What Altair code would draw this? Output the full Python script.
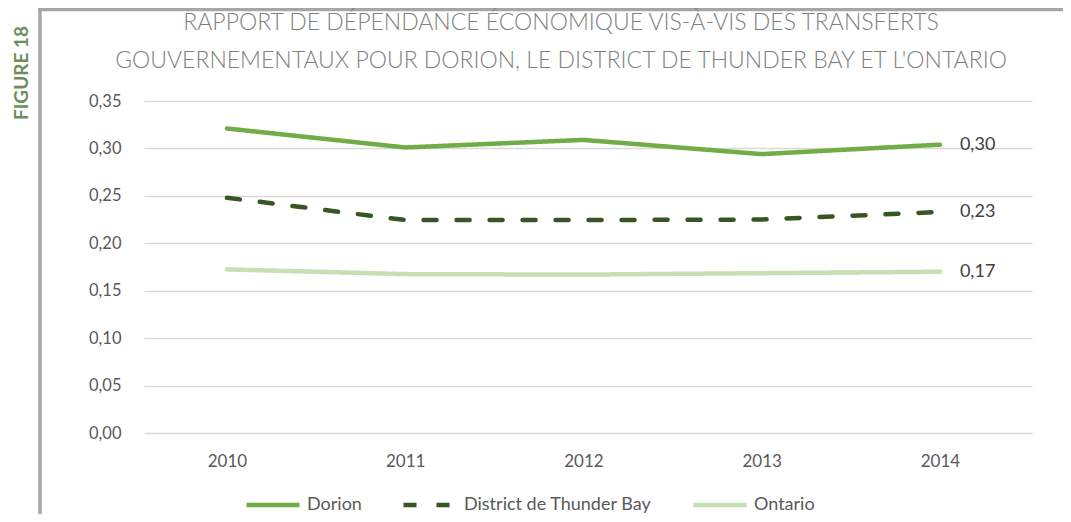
import altair as alt
import pandas as pd

years = ["2010", "2011", "2012", "2013", "2014"]
series_names = ["Dorion", "District de Thunder Bay", "Ontario"]
dorion = [0.321, 0.301, 0.309, 0.294, 0.304]
district = [0.248, 0.2245, 0.2245, 0.225, 0.233]
ontario = [0.1725, 0.1675, 0.167, 0.1685, 0.170]
colors = ["#70AD47", "#375623", "#C5E0B4"]
dashes = [[1, 0], [13, 20], [1, 0]]
title_lines = [
    "RAPPORT DE DÉPENDANCE ÉCONOMIQUE VIS-À-VIS DES TRANSFERTS",
    "GOUVERNEMENTAUX POUR DORION, LE DISTRICT DE THUNDER BAY ET L'ONTARIO",
]
figure_label = "FIGURE 18"

rows = []
for name, vals in zip(series_names, [dorion, district, ontario]):
    for y, v in zip(years, vals):
        rows.append({"year": y, "series": name, "value": v,
                     "label": f"{v:.2f}".replace(".", ",")})
df = pd.DataFrame(rows)

FONT = "Lato"
W, H = 888, 332

x_enc = alt.X("year:O", scale=alt.Scale(type="point", padding=0.491, align=0.474),
              axis=alt.Axis(title=None, labelAngle=0, domain=False, ticks=False,
                            labelFontSize=17, labelColor="#595959", labelPadding=20,
                            labelFont=FONT, grid=False))
y_enc = alt.Y("value:Q", scale=alt.Scale(domain=[0, 0.35], nice=False),
              axis=alt.Axis(title=None, values=[0, 0.05, 0.1, 0.15, 0.2, 0.25, 0.3, 0.35],
                            labelExpr="replace(format(datum.value, '.2f'), '.', ',')",
                            domain=False, ticks=False, labelFontSize=16.5,
                            labelColor="#595959", labelPadding=23, labelFont=FONT,
                            gridColor="#D9D9D9", gridWidth=1.5))

legend_cfg = dict(title=None, orient="none", legendX=100, legendY=375,
                  direction="horizontal", symbolType="stroke", symbolSize=2809,
                  symbolStrokeWidth=4.5, labelFontSize=18, labelColor="#595959",
                  labelFont=FONT, labelOffset=5, columnPadding=32, labelLimit=400)

base = alt.Chart(df)

lines = base.mark_line(strokeWidth=4.5, strokeCap="round", strokeJoin="round").encode(
    x=x_enc, y=y_enc,
    color=alt.Color("series:N", scale=alt.Scale(domain=series_names, range=colors),
                    legend=alt.Legend(**legend_cfg)),
    strokeDash=alt.StrokeDash("series:N", scale=alt.Scale(domain=series_names, range=dashes),
                              legend=alt.Legend(**legend_cfg)),
)

end_labels = base.transform_filter(alt.datum.year == "2014").mark_text(
    align="left", baseline="middle", dx=20, fontSize=18, color="#404040", font=FONT
).encode(x=x_enc, y=y_enc, text="label:N")

title1 = alt.Chart(pd.DataFrame({"t": [title_lines[0]]})).mark_text(
    fontSize=23, fontWeight=300, color="#7F7F7F", font=FONT, align="center", baseline="middle"
).encode(text="t:N", x=alt.value(417), y=alt.value(-78))
title2 = alt.Chart(pd.DataFrame({"t": [title_lines[1]]})).mark_text(
    fontSize=23, fontWeight=300, color="#7F7F7F", font=FONT, align="center", baseline="middle"
).encode(text="t:N", x=alt.value(417), y=alt.value(-40))

fig = alt.Chart(pd.DataFrame({"t": [figure_label]})).mark_text(
    fontSize=19, fontWeight="bold", color="#6B8E5A", font=FONT, angle=270,
    align="center", baseline="middle"
).encode(text="t:N", x=alt.value(-122), y=alt.value(-28))

frame_v = alt.Chart(pd.DataFrame({"a": [0]})).mark_rule(color="#A6A6A6", strokeWidth=3.5).encode(
    x=alt.value(-104), y=alt.value(-93), y2=alt.value(420))
frame_h = alt.Chart(pd.DataFrame({"a": [0]})).mark_rule(color="#A6A6A6", strokeWidth=3.5).encode(
    x=alt.value(-106), x2=alt.value(930), y=alt.value(-91.5))

chart = alt.layer(frame_v, frame_h, fig, title1, title2, lines, end_labels).properties(
    width=W, height=H,
    autosize=alt.AutoSizeParams(type="none"),
    padding={"left": 136, "top": 93, "right": 31, "bottom": 81},
).configure_view(stroke=None)

chart.save("out.html", embed_options={"renderer": "svg", "actions": False})
